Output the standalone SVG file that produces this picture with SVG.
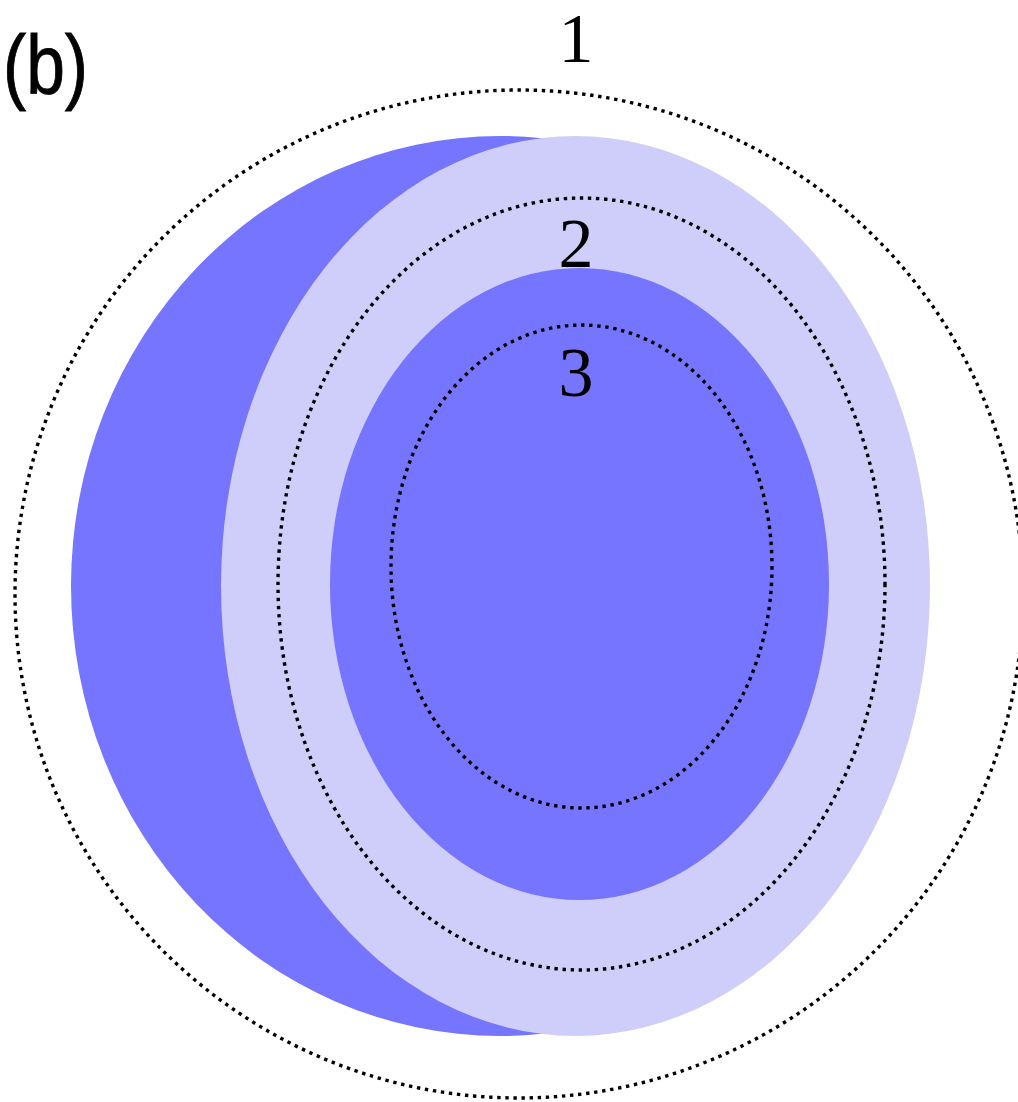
<svg xmlns="http://www.w3.org/2000/svg" width="1018" height="1102" viewBox="0 0 1018 1102">
  <style>
    .dark { fill: #7575FF; }
    .light { fill: #CFCDF9; }
    .dot { fill: none; stroke: #000; stroke-width: 3.4; stroke-dasharray: 3.4 4.7; }
    .num { font-family: "Liberation Serif", "DejaVu Serif", serif; font-size: 70px; fill: #000; text-anchor: middle; }
    .lbl { font-family: "Liberation Sans", "DejaVu Sans", sans-serif; font-size: 84px; fill: #000; stroke: #000; stroke-width: 0.9; }
  </style>
  <rect width="1018" height="1102" fill="#fff"/>
  <g id="label-b">
    <text class="lbl" x="3" y="94" textLength="85" lengthAdjust="spacingAndGlyphs">(b)</text>
  </g>
  <g id="outer-ring">
    <ellipse class="dot" cx="519" cy="594" rx="504" ry="504"/>
  </g>
  <g id="shell-dark">
    <ellipse class="dark" cx="500" cy="586" rx="429" ry="450"/>
  </g>
  <g id="shell-light">
    <ellipse class="light" cx="575.5" cy="586" rx="354.5" ry="450"/>
  </g>
  <g id="middle-ring">
    <ellipse class="dot" cx="581.5" cy="584" rx="303.5" ry="386"/>
  </g>
  <g id="core">
    <ellipse class="dark" cx="579.5" cy="584" rx="249.5" ry="316"/>
  </g>
  <g id="inner-ring">
    <ellipse class="dot" cx="581.5" cy="566.5" rx="190.5" ry="241.5"/>
  </g>
  <g id="labels">
    <text class="num" x="576" y="62">1</text>
    <text class="num" x="576" y="267">2</text>
    <text class="num" x="576" y="396">3</text>
  </g>
</svg>
